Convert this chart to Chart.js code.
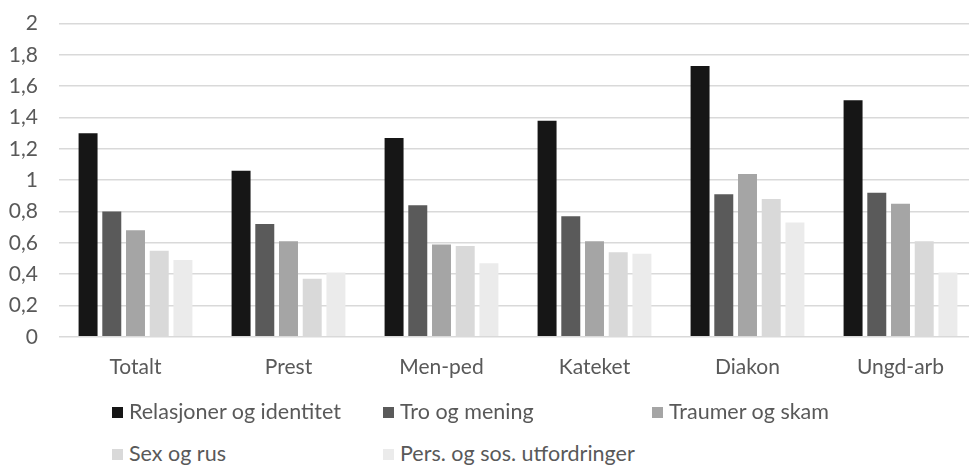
<!DOCTYPE html>
<html>
<head>
<meta charset="utf-8">
<script src="https://cdn.jsdelivr.net/npm/chart.js@4"></script>
<style>
  body { margin: 0; background: #fff; }
  #wrap { position: relative; width: 969px; height: 465px; overflow: hidden; }
  #chart { display: block; margin-top: -10px; }
  #legend { position: absolute; left: 0; top: 0; font-family: Lato, sans-serif; font-size: 21.5px; color: #595959; }
  .item { position: absolute; white-space: nowrap; line-height: 24px; }
  .box { display: inline-block; width: 11px; height: 11px; margin-right: 6px; vertical-align: 1px; }
</style>
</head>
<body>
<div id="wrap">
  <canvas id="chart" width="977" height="410"></canvas>
  <div id="legend"></div>
</div>
<script>
const categories = ["Totalt", "Prest", "Men-ped", "Kateket", "Diakon", "Ungd-arb"];
const seriesNames = [
  "Relasjoner og identitet",
  "Tro og mening",
  "Traumer og skam",
  "Sex og rus",
  "Pers. og sos. utfordringer"
];
const relasjoner = [1.30, 1.06, 1.27, 1.38, 1.73, 1.51];
const troMening = [0.80, 0.72, 0.84, 0.77, 0.91, 0.92];
const traumer = [0.68, 0.61, 0.59, 0.61, 1.04, 0.85];
const sexRus = [0.55, 0.37, 0.58, 0.54, 0.88, 0.61];
const persSos = [0.49, 0.41, 0.47, 0.53, 0.73, 0.41];
const colors = ["#161616", "#5a5a5a", "#a5a5a5", "#d9d9d9", "#ebebeb"];

const seriesValues = [relasjoner, troMening, traumer, sexRus, persSos];
const datasets = seriesNames.map((name, i) => ({
  label: name,
  data: seriesValues[i],
  backgroundColor: colors[i],
  categoryPercentage: 0.775,
  barPercentage: 0.8
}));

new Chart(document.getElementById("chart").getContext("2d"), {
  type: "bar",
  data: { labels: categories, datasets: datasets },
  options: {
    responsive: false,
    animation: false,
    layout: { padding: { top: 1, bottom: 2, left: 0, right: 0 } },
    plugins: { legend: { display: false }, tooltip: { enabled: false } },
    scales: {
      x: {
        grid: { display: false, drawTicks: false },
        border: { display: false },
        ticks: { color: "#595959", font: { family: "Lato", size: 21 }, padding: 18 }
      },
      y: {
        min: 0,
        max: 2,
        afterFit: (scale) => { scale.width = 59; },
        ticks: {
          stepSize: 0.2,
          color: "#595959",
          font: { family: "Lato", size: 21 },
          padding: 21,
          callback: (v) => String(Number(v.toFixed(1))).replace(".", ",")
        },
        grid: { color: "#d9d9d9", lineWidth: 1.5, drawTicks: false },
        border: { display: false }
      }
    }
  }
});

// legend laid out in a grid like the original
const legendPos = [[112, 399], [383, 399], [652, 399], [112, 441], [383, 441]];
const legend = document.getElementById("legend");
datasets.forEach((ds, i) => {
  const el = document.createElement("div");
  el.className = "item";
  el.style.left = legendPos[i][0] + "px";
  el.style.top = legendPos[i][1] + "px";
  el.innerHTML = '<span class="box" style="background:' + ds.backgroundColor + '"></span>' + ds.label;
  legend.appendChild(el);
});
</script>
</body>
</html>
